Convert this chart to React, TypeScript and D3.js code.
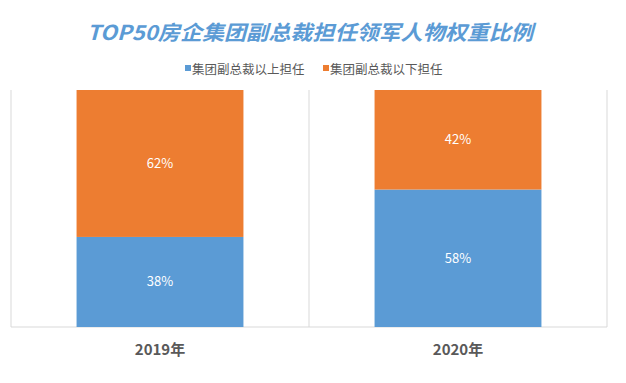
import React from "react";
import * as d3 from "d3";

const categories = ["2019年", "2020年"];
const seriesNames = ["集团副总裁以上担任", "集团副总裁以下担任"];
const above = [38, 58];
const below = [62, 42];
const colors = ["#5b9bd5", "#ed7d31"];
const title = "TOP50房企集团副总裁担任领军人物权重比例";

const W = 626;
const H = 383;
const plot = { left: 11, right: 607, top: 90, bottom: 327 };

export default function App() {
  const x = d3
    .scaleBand<string>()
    .domain(categories)
    .range([plot.left, plot.right])
    .paddingInner(0)
    .paddingOuter(0);
  const y = d3.scaleLinear().domain([0, 100]).range([plot.bottom, plot.top]);
  const rows = categories.map((c, i) => ({ cat: c, a: above[i], b: below[i] }));
  const stack = d3.stack<any>().keys(["a", "b"])(rows);
  const barW = x.bandwidth() * 0.56;
  const ff = "'Noto Sans CJK SC', 'Microsoft YaHei', sans-serif";

  const boundaries = [plot.left, ...categories.map((c) => (x(c) as number) + x.bandwidth())];

  return (
    <svg
      width={W}
      height={H}
      style={{ position: "absolute", left: 0, top: 0, background: "#fff" }}
      fontFamily={ff}
    >
      <rect x={0} y={0} width={W} height={H} fill="#fff" />
      <text
        x={310}
        y={40}
        textAnchor="middle"
        fontSize={20.5}
        fontWeight="bold"
        fontStyle="italic"
        fill="#5b9bd5"
        textLength={446}
        lengthAdjust="spacingAndGlyphs"
      >
        {title}
      </text>
      {/* legend */}
      {seriesNames.map((s, i) => {
        const lx = i === 0 ? 185 : 323;
        return (
          <g key={s}>
            <rect x={lx} y={65} width={6} height={6} fill={colors[i]} />
            <text x={lx + 7} y={73.5} fontSize={12.5} fill="#595959">
              {s}
            </text>
          </g>
        );
      })}
      {/* grid */}
      {boundaries.map((bx, i) => (
        <line key={i} x1={bx} x2={bx} y1={plot.top} y2={plot.bottom} stroke="#d9d9d9" strokeWidth={1} />
      ))}
      <line x1={plot.left} x2={plot.right} y1={plot.bottom} y2={plot.bottom} stroke="#d9d9d9" strokeWidth={1} />
      {/* bars */}
      {stack.map((layer, li) => (
        <g key={li}>
          {layer.map((d: any, di: number) => {
            const cx = (x(categories[di]) as number) + x.bandwidth() / 2;
            const y0 = y(d[0]);
            const y1 = y(d[1]);
            const v = d[1] - d[0];
            return (
              <g key={di}>
                <rect x={cx - barW / 2} y={y1} width={barW} height={y0 - y1} fill={colors[li]} />
                <text
                  x={cx}
                  y={(y0 + y1) / 2 + 4.5}
                  textAnchor="middle"
                  fontSize={13}
                  fill="#fff"
                >
                  {`${v}%`}
                </text>
              </g>
            );
          })}
        </g>
      ))}
      {/* x labels */}
      {categories.map((c) => (
        <text
          key={c}
          x={(x(c) as number) + x.bandwidth() / 2}
          y={355}
          textAnchor="middle"
          fontSize={15}
          fontWeight="bold"
          fill="#595959"
        >
          {c}
        </text>
      ))}
    </svg>
  );
}
